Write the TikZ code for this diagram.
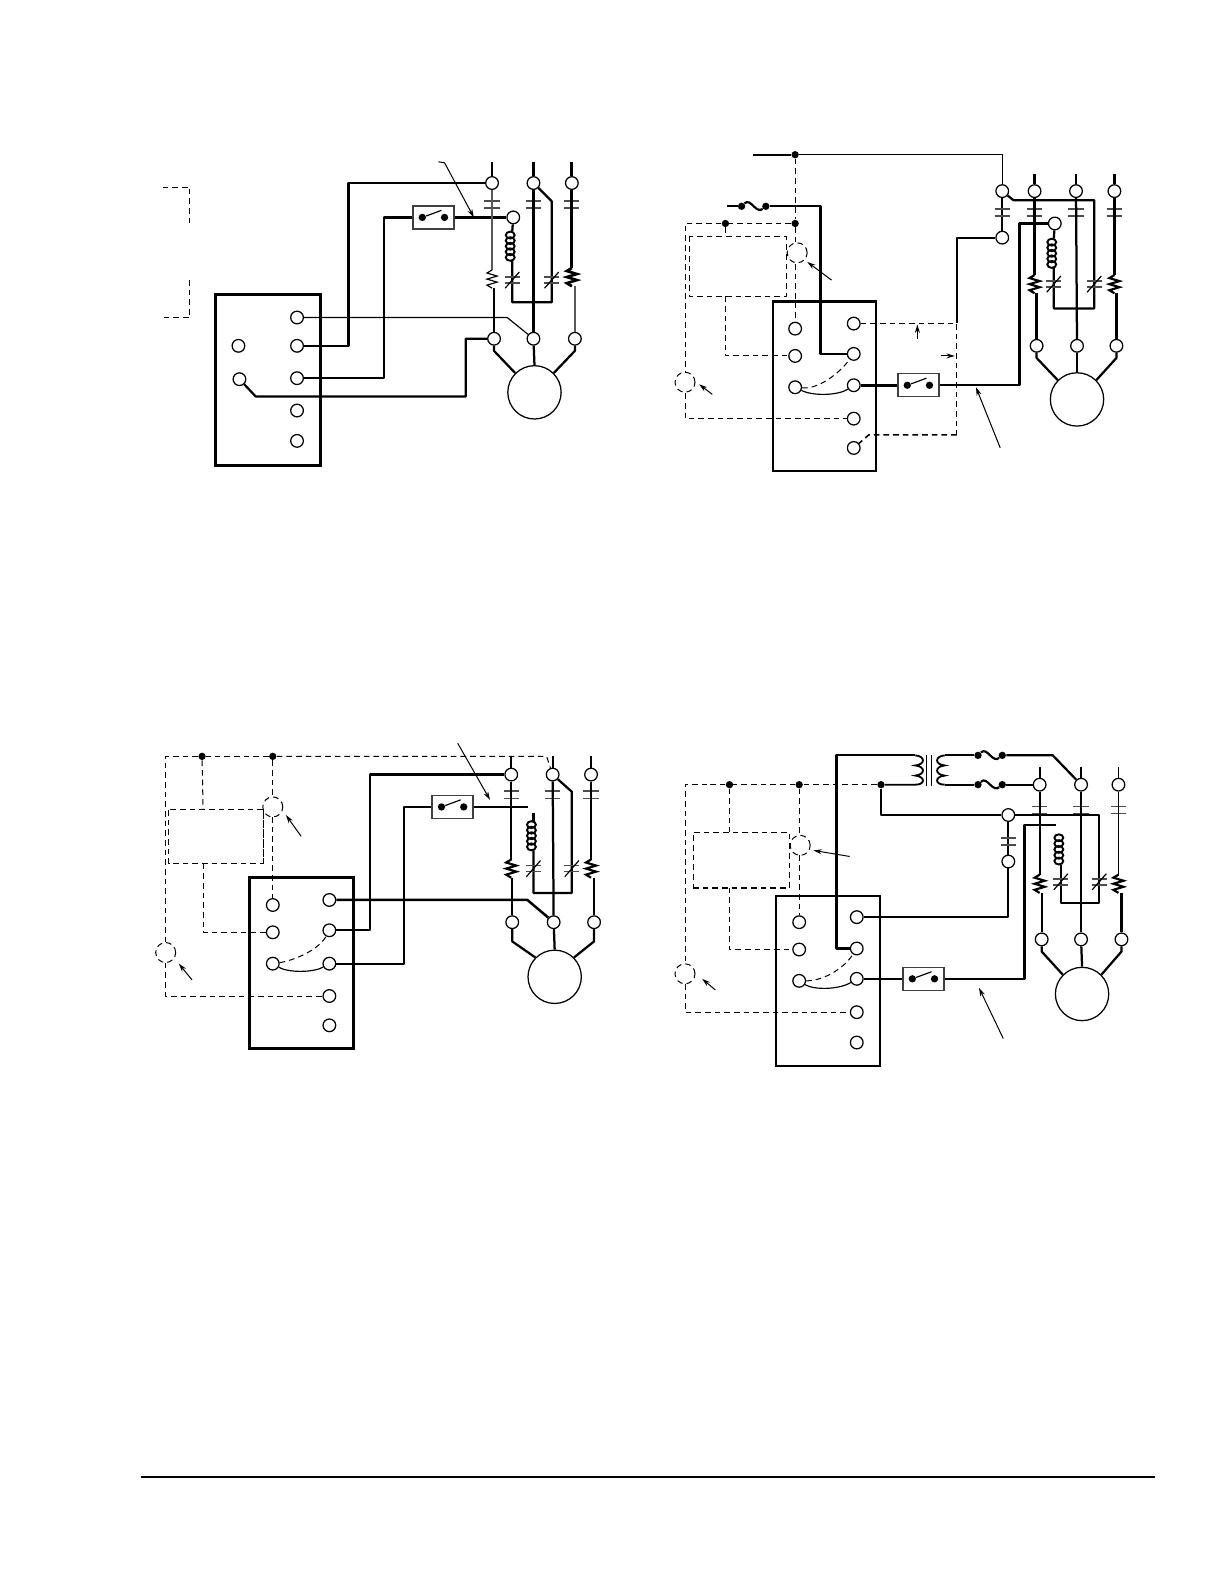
\documentclass[tikz,border=0pt]{standalone}
\usetikzlibrary{arrows.meta}
\tikzset{
 term/.style={circle,draw=black,fill=white,inner sep=0pt,minimum size=7.6pt,line width=0.75pt},
 motor/.style={circle,draw=black,fill=white,inner sep=0pt,minimum size=32pt,line width=0.75pt},
 swbox/.style={rectangle,draw=black!75,fill=white,inner sep=0pt,minimum width=24.6pt,minimum height=13.8pt,line width=0.8pt},
 dotnode/.style={circle,fill=black,inner sep=0pt,minimum size=4.4pt},
 wa/.style={line width=1.8pt,line join=round},
 wb/.style={line width=1.35pt,line join=round},
 wc/.style={line width=0.7pt,line join=round},
 wg/.style={line width=0.8pt,line join=round,draw=black!65},
 dsh/.style={line width=0.6pt,dash pattern=on 3.4pt off 2.4pt,line join=round},
 dshb/.style={line width=0.95pt,dash pattern=on 3.4pt off 2.4pt,line join=round},
 dcirc/.style={circle,draw,dsh,minimum size=12pt,inner sep=0pt},
 capline/.style={line width=1pt,draw=black!70},
 pointer/.style={line width=0.6pt,-{Stealth[length=5pt,width=3pt]}},
}
\newcommand{\ctc}[2]{\draw[capline] (#1-7.5,#2-3.5) -- (#1+7.5,#2-3.5) (#1-7.5,#2+3.5) -- (#1+7.5,#2+3.5);}
\newcommand{\ncc}[2]{\draw[capline] (#1-7.5,#2-3) -- (#1+7.5,#2-3) (#1-7.5,#2+3) -- (#1+7.5,#2+3);
 \draw[line width=0.7pt] (#1-7,#2+8) -- (#1+7,#2-8);}
\newcommand{\rst}[3]{\draw[#3] (#1,#2) -- (#1-5,#2+3) -- (#1+5,#2+6) -- (#1-5,#2+9) -- (#1+5,#2+12) -- (#1-5,#2+15) -- (#1,#2+18);}
\newcommand{\cln}[3]{\foreach \i in {0,...,4} \draw[line width=1.15pt] (#1,{#2+3.5+\i*(#3-#2-7)/4}) ellipse [x radius=4.4,y radius=3.4];}
\newcommand{\swt}[3]{\node[swbox] (#1) at (#2,#3) {};
 \node[dotnode] (#1a) at (#2-11,#3) {}; \node[dotnode] (#1b) at (#2+11,#3) {};
 \draw[line width=0.7pt] (#1a) -- (#2+8,#3-7);}
\newcommand{\fus}[3]{\node[dotnode] (#1a) at (#2-12,#3) {}; \node[dotnode] (#1b) at (#2+12,#3) {};
 \draw[line width=1.3pt] (#1a) .. controls (#2-6,#3-6) and (#2-3,#3-3) .. (#2,#3) .. controls (#2+3,#3+3) and (#2+6,#3+5) .. (#1b);}
\begin{document}
\begin{tikzpicture}[x=0.6062pt,y=-0.6067pt]
\useasboundingbox (0pt,0pt) rectangle (734.4pt,-950.4pt);
\fill[white] (0pt,0pt) rectangle (734.4pt,-950.4pt);

%% ===== PANEL A =====
\draw[line width=1.8pt] (213,291) rectangle (317,460);
\foreach \n/\y in {1/314,2/342,3/374,4/406,5/436} \node[term] (ar\n) at (294,\y) {};
\node[term] (al1) at (236,342) {};
\node[term] (al2) at (237,375) {};
\node[term] (at1) at (487,181) {};
\node[term] (at2) at (528,181) {};
\node[term] (at3) at (566,181) {};
\node[term] (ab1) at (489,335) {};
\node[term] (ab2) at (528,335) {};
\node[term] (ab3) at (569,335) {};
\node[term] (ac) at (508,215) {};
\node[motor] (am) at (529,388) {};
\swt{asw}{429}{215}
\draw[wb] (at1) -- ++(0,-21);
\draw[wa] (at2) -- ++(0,-21);
\draw[wa] (at3) -- ++(0,-21);
\draw[wb] (at1) -- (345,181) |- (ar2);
\draw[wb] (ar3) -| (380,215) -- (asw.west);
\draw[wb] (asw.east) -- (ac);
\ctc{487}{202}\ctc{528}{202}\ctc{566}{202}
\draw[wg] (at1) -- (487,267);
\rst{487}{267}{line width=0.7pt}
\draw[wb] (489,285) -- (ab1);
\draw[wa] (at2) -- (ab2);
\draw[wa] (at3) -- (566,265);
\rst{566}{265}{line width=1.6pt}
\draw[wg] (569,283) -- (ab3);
\draw[wb] (ac) -- (507,229);
\cln{505}{229}{258}
\draw[wb] (507,258) -- (507,299) -- (546,299) -- (546,199) -- (at2);
\ncc{507}{277}\ncc{546}{277}
\draw[wc] (ar1) -- (502,314) -- (ab2);
\draw[wb] (ab1) -- (461,335) -- (461,392) -- (253,392) -- (al2);
\draw[wb] (ab1) -- (489,347) -- (am.135);
\draw[wb] (ab2) -- (am.north);
\draw[wb] (ab3) -- (569,347) -- (am.45);
\draw[dsh] (161,185) -- (188,185) -- (188,222);
\draw[dsh] (188,277) -- (188,314) -- (162,314);
\coordinate (apt) at (434,160);
\draw[pointer] (apt) -- (440,161) -- (469,215);

%% ===== PANEL B =====
\draw[line width=1.5pt] (765,298) rectangle (867,466);
\foreach \n/\y in {1/320,2/350,3/381,4/414,5/443} \node[term] (br\n) at (845,\y) {};
\foreach \n/\y in {1/325,2/352,3/383} \node[term] (bl\n) at (787,\y) {};
\node[term] (bt1) at (992,189) {};
\node[term] (bt2) at (1024,189) {};
\node[term] (bt3) at (1065,189) {};
\node[term] (bt4) at (1103,189) {};
\node[term] (bu1) at (992,235) {};
\node[term] (bc) at (1044,221) {};
\node[term] (bb1) at (1026,342) {};
\node[term] (bb2) at (1066,342) {};
\node[term] (bb3) at (1105,342) {};
\node[motor] (bm) at (1066,395) {};
\swt{bsw}{909}{381}
\node[dotnode] (bd1) at (787,153) {};
\node[dotnode] (bd2) at (718,221) {};
\node[dotnode] (bd3) at (787,221) {};
\fus{bfu}{746}{204}
\draw[wb] (745,153) -- (bd1);
\draw[wc,line width=0.9pt] (bd1) -- (992,153) -- (bt1);
\draw[dsh] (bd1) -- (bd3);
\draw[wb] (bt2) -- ++(0,-17);
\draw[wb] (bt3) -- ++(0,-17);
\draw[wb] (bt4) -- ++(0,-17);
\draw[wb] (bt1) -- (bu1);
\ctc{992}{210}\ctc{1024}{210}\ctc{1065}{210}\ctc{1103}{210}
\draw[wb] (bu1) -- (947,235) -- (947,319);
\draw[wb] (720,204) -- (bfua);
\draw[wb] (bfub) -- (812,204) -- (812,350) -- (br2);
\draw[dsh] (bd3) -- (787,239);
\draw[dsh] (787,261) -- (bl1);
\node[dcirc] (bci) at (789,250) {};
\draw[dsh] (bd3) -- (bd2) -- (678,221) -- (678,367);
\node[dcirc] (bcj) at (678,378) {};
\draw[dsh] (678,389) -- (678,414) -- (br4);
\draw[dsh] (682,234) rectangle (778,293);
\draw[dsh] (bd2) -- (718,234);
\draw[dsh] (718,293) -- (718,352) -- (bl2);
\draw[dsh] (br1) -- (947,320) -- (947,430);
\draw[dshb] (947,430) -- (860,430) -- (br5);
\draw[wc] (bl3) .. controls (805,392) and (830,391) .. (br3);
\draw[dsh] (bl3) .. controls (810,385) and (830,370) .. (br2);
\draw[wa] (br3) -- (bsw.west);
\draw[wb] (bsw.east) -- (1009,381) -- (1009,221) -- (bc);
\draw[wb] (bc) -- (1043,236);
\cln{1041}{236}{265}
\draw[wb] (1043,265) -- (1043,305) -- (1083,305) -- (1083,198) -- (1003,198) -- (bt1);
\ncc{1043}{281}\ncc{1083}{281}
\draw[wb] (bt2) -- (1024,272);
\rst{1024}{272}{line width=1.3pt}
\draw[wb] (1026,290) -- (bb1);
\draw[wb] (bt3) -- (bb2);
\draw[wb] (bt4) -- (1103,272);
\rst{1103}{272}{line width=1.3pt}
\draw[wb] (1105,290) -- (bb3);
\draw[wb] (bb1) -- (1026,354) -- (bm.135);
\draw[wb] (bb2) -- (bm.north);
\draw[wb] (bb3) -- (1105,354) -- (bm.45);
\coordinate (bp1) at (823,277);
\coordinate (bp2) at (705,390);
\coordinate (bp3) at (990,443);
\coordinate (bp4) at (908,335);
\coordinate (bp5) at (931,352);
\draw[pointer] (bp1) -- (799,259);
\draw[pointer] (bp2) -- (692,380);
\draw[pointer] (bp3) -- (966,383);
\draw[pointer] (bp4) -- (908,321);
\draw[pointer] (bp5) -- (945,352);

%% ===== PANEL C =====
\draw[line width=1.8pt] (247,868) rectangle (350,1037);
\foreach \n/\y in {1/890,2/920,3/953,4/985,5/1014} \node[term] (cr\n) at (326,\y) {};
\foreach \n/\y in {1/895,2/922,3/953} \node[term] (cl\n) at (270,\y) {};
\node[term] (ct1) at (506,766) {};
\node[term] (ct2) at (547,766) {};
\node[term] (ct3) at (585,766) {};
\node[term] (cb1) at (507,912) {};
\node[term] (cb2) at (548,912) {};
\node[term] (cb3) at (588,912) {};
\node[motor] (cm) at (549,966) {};
\swt{csw}{448}{798}
\node[dotnode] (cd1) at (200,748) {};
\node[dotnode] (cd2) at (270,748) {};
\draw[wb] (ct1) -- ++(0,-18);
\draw[wb] (ct2) -- ++(0,-18);
\draw[wb] (ct3) -- ++(0,-18);
\ctc{506}{786}\ctc{547}{786}\ctc{585}{786}
\draw[dsh] (cd2) -- (541,748) -- (ct2);
\draw[dsh] (cd2) -- (cd1) -- (164,748) -- (164,932);
\node[dcirc] (cci) at (164,942) {};
\draw[dsh] (164,952) -- (164,985) -- (cr4);
\draw[dsh] (cd2) -- (270,788);
\node[dcirc] (ccj) at (270,798) {};
\draw[dsh] (270,808) -- (cl1);
\draw[dsh] (167,801) rectangle (261,854);
\draw[dsh,line width=0.9pt] (261,801) -- (261,854);
\draw[dsh] (cd1) -- (201,801);
\draw[dsh] (201,854) -- (201,922) -- (cl2);
\draw[wa,line width=1.5pt] (cr1) -- (522,890) -- (cb2);
\draw[wb] (ct1) -- (366,766) -- (366,920) -- (cr2);
\draw[wb] (cr3) -- (400,953) -- (400,798) -- (csw.west);
\draw[wb] (csw.east) -- (523,798);
\draw[wc] (cl3) .. controls (285,962) and (310,962) .. (cr3);
\draw[dsh] (cl3) .. controls (290,950) and (315,940) .. (cr2);
\draw[wb] (ct1) -- (506,850);
\rst{506}{850}{line width=1.3pt}
\draw[wb] (507,868) -- (cb1);
\draw[wb] (ct2) -- (cb2);
\draw[wb] (ct3) -- (585,850);
\rst{585}{850}{line width=1.3pt}
\draw[wb] (588,868) -- (cb3);
\draw[wb] (528,804) -- (528,812);
\cln{526}{812}{841}
\draw[wb] (528,841) -- (528,883) -- (566,883) -- (566,783) -- (ct2);
\ncc{528}{859}\ncc{566}{859}
\draw[wb] (cb1) -- (507,931) -- (cm.135);
\draw[wb] (cb2) -- (cm.north);
\draw[wb] (cb3) -- (588,931) -- (cm.45);
\coordinate (cp1) at (453,735);
\coordinate (cp2) at (298,827);
\coordinate (cp3) at (190,969);
\draw[pointer] (cp1) -- (485,791);
\draw[pointer] (cp2) -- (283,806);
\draw[pointer] (cp3) -- (177,953);

%% ===== PANEL D =====
\draw[line width=1.5pt] (768,886) rectangle (871,1054);
\foreach \n/\y in {1/907,2/938,3/968,4/1001,5/1031} \node[term] (dr\n) at (848,\y) {};
\foreach \n/\y in {1/912,2/939,3/970} \node[term] (dl\n) at (791,\y) {};
\node[term] (dt1) at (1029,776) {};
\node[term] (dt2) at (1070,776) {};
\node[term] (dt3) at (1107,776) {};
\node[term] (dc1) at (998,806) {};
\node[term] (dc2) at (998,852) {};
\node[term] (db1) at (1031,929) {};
\node[term] (db2) at (1070,929) {};
\node[term] (db3) at (1110,929) {};
\node[motor] (dm) at (1071,983) {};
\swt{dsw}{914}{968}
\node[dotnode] (dd1) at (722,776) {};
\node[dotnode] (dd2) at (791,776) {};
\node[dotnode] (dd3) at (872,776) {};
\fus{dfa}{980}{747}
\fus{dfb}{980}{776}
\draw[wb] (dr2) -- (828,938) -- (828,747) -- (906,747);
\draw[line width=1.1pt] (906,747) .. controls (916,748) and (916,756) .. (906,757) .. controls (916,758) and (916,766) .. (906,767) .. controls (916,768) and (916,776) .. (906,776) -- (dd3);
\draw[line width=0.8pt] (917,747) -- (917,777) (922,747) -- (922,777);
\draw[line width=1.1pt] (935,747) .. controls (925,748) and (925,756) .. (935,757) .. controls (925,758) and (925,766) .. (935,767) .. controls (925,768) and (925,776) .. (935,776);
\draw[wb] (935,747) -- (dfaa);
\draw[wb] (935,776) -- (dfba);
\draw[wb] (dfab) -- (1042,747) -- (dt2);
\draw[wb] (dfbb) -- (dt1);
\draw[wb] (dt1) -- ++(0,-17);
\draw[wb] (dt2) -- ++(0,-17);
\draw[wc] (dt3) -- ++(0,-17);
\ctc{1029}{801}\ctc{1070}{801}\ctc{1107}{801}
\draw[dshb] (dd3) -- (dd2) -- (dd1) -- (700,776);
\draw[dsh] (700,776) -- (678,776) -- (678,953);
\node[dcirc] (dci) at (678,963) {};
\draw[dsh] (678,973) -- (678,1001) -- (dr4);
\draw[dsh] (dd2) -- (791,826);
\node[dcirc] (dcj) at (792,836) {};
\draw[dsh] (791,846) -- (dl1);
\draw[dsh] (781,878) -- (781,823) -- (686,823) -- (686,878);
\draw[dshb] (686,878) -- (781,878);
\draw[dsh] (dd1) -- (722,823);
\draw[dsh] (722,878) -- (722,939) -- (dl2);
\draw[wb] (dd3) -- (872,806) -- (dc1);
\draw[wb] (dc1) -- (1088,806) -- (1088,893) -- (1050,893) -- (1050,855);
\cln{1048}{825}{855}
\ncc{1050}{872}\ncc{1088}{872}
\draw[wb] (dc1) -- (dc2);
\ctc{998}{832}
\draw[wb] (dc2) -- (998,907) -- (dr1);
\draw[wb] (dr3) -- (dsw.west);
\draw[wb] (dsw.east) -- (1014,968) -- (1014,816) -- (1045,816);
\draw[wc] (dl3) .. controls (805,979) and (830,979) .. (dr3);
\draw[dsh] (dl3) .. controls (815,970) and (835,958) .. (dr2);
\draw[wb] (dt1) -- (1029,865);
\rst{1029}{865}{line width=1.3pt}
\draw[wb] (1031,883) -- (db1);
\draw[wb] (dt2) -- (db2);
\draw[wc] (dt3) -- (1107,865);
\rst{1107}{865}{line width=1.3pt}
\draw[wb] (1110,883) -- (db3);
\draw[wb] (db1) -- (1031,941) -- (dm.135);
\draw[wb] (db2) -- (dm.north);
\draw[wb] (db3) -- (1110,941) -- (dm.45);
\coordinate (dp1) at (841,847);
\coordinate (dp2) at (708,979);
\coordinate (dp3) at (993,1027);
\draw[pointer] (dp1) -- (805,841);
\draw[pointer] (dp2) -- (695,968);
\draw[pointer] (dp3) -- (969,977);

%% footer rule
\coordinate (fl) at (140,1461);
\coordinate (fr) at (1143,1461);
\draw[line width=1.1pt] (fl) -- (fr);
\end{tikzpicture}
\end{document}
